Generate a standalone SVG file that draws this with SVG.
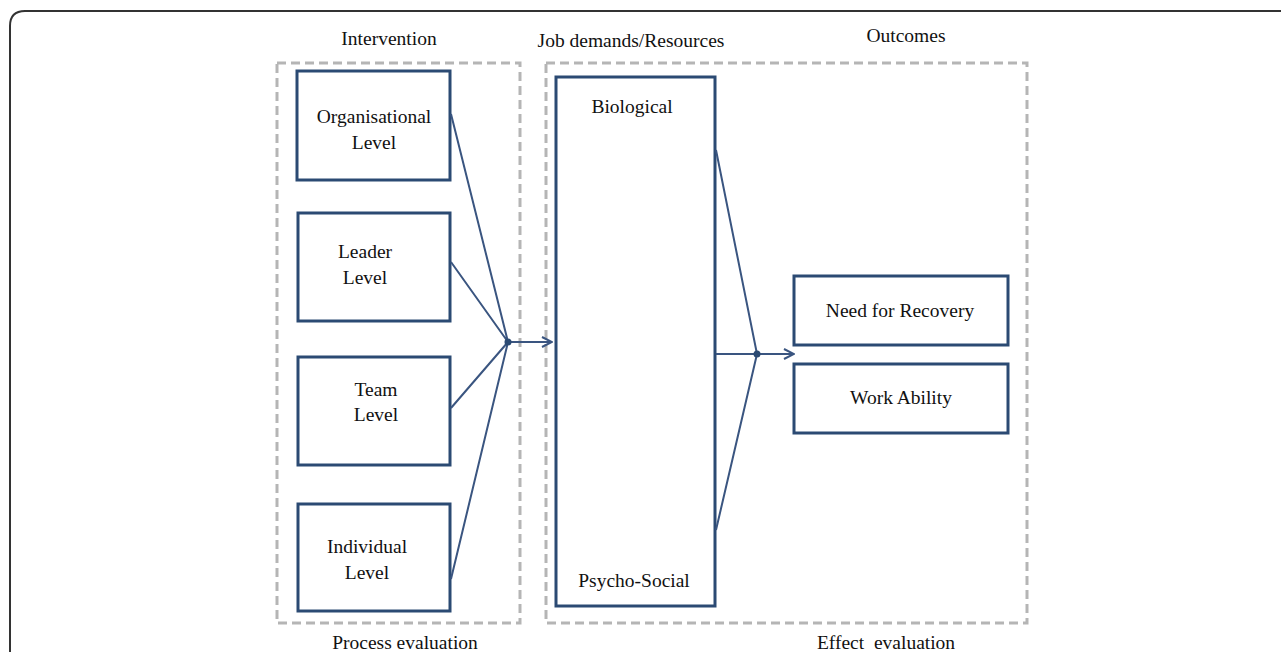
<svg xmlns="http://www.w3.org/2000/svg" width="1281" height="652" viewBox="0 0 1281 652">
<style>
.t{font-family:"Liberation Serif","Times New Roman",serif;font-size:19.5px;fill:#111;text-anchor:middle}
.box{fill:#fff;stroke:#2b4a73;stroke-width:3}
.dash{fill:none;stroke:#b5b5b5;stroke-width:3;stroke-dasharray:9 5}
.c{fill:none;stroke:#3a5580;stroke-width:2}
</style>
<defs>
<marker id="ah" viewBox="0 0 12 12" refX="11" refY="6" markerWidth="12" markerHeight="12" markerUnits="userSpaceOnUse" orient="auto">
<path d="M1,1 L11,6 L1,11" fill="none" stroke="#3a5580" stroke-width="2"/>
</marker>
</defs>
<rect width="1281" height="652" fill="#fff"/>
<path d="M10,700 L10,26 Q10,11 25,11 L1300,11" fill="none" stroke="#333" stroke-width="2"/>
<g id="frames">
<rect class="dash" x="277" y="63" width="243" height="560"/>
<rect class="dash" x="546" y="63" width="481" height="560"/>
</g>
<g id="labels">
<text class="t" x="389" y="45">Intervention</text>
<text class="t" x="631" y="47">Job demands/Resources</text>
<text class="t" x="906" y="42">Outcomes</text>
<text class="t" x="405" y="649">Process evaluation</text>
<text class="t" x="886" y="649" xml:space="preserve">Effect  evaluation</text>
</g>
<g id="org"><rect class="box" x="297" y="71" width="153" height="109"/><text class="t" x="374" y="123">Organisational</text><text class="t" x="374" y="149">Level</text></g>
<g id="leader"><rect class="box" x="298" y="213" width="152" height="108"/><text class="t" x="365" y="258">Leader</text><text class="t" x="365" y="284">Level</text></g>
<g id="team"><rect class="box" x="298" y="357" width="152" height="108"/><text class="t" x="376" y="396">Team</text><text class="t" x="376" y="421">Level</text></g>
<g id="individual"><rect class="box" x="298" y="504" width="152" height="107"/><text class="t" x="367" y="553">Individual</text><text class="t" x="367" y="579">Level</text></g>
<g id="jobdemands"><rect class="box" x="556" y="77" width="159" height="529"/><text class="t" x="632" y="113">Biological</text><text class="t" x="634" y="587">Psycho-Social</text></g>
<g id="recovery"><rect class="box" x="794" y="276" width="214" height="69"/><text class="t" x="900" y="317">Need for Recovery</text></g>
<g id="workability"><rect class="box" x="794" y="364" width="214" height="69"/><text class="t" x="901" y="404">Work Ability</text></g>
<g id="connectors">
<path class="c" d="M451,114 L508,342 M451,262 L508,342 M451,408 L508,342 M451,579 L508,342"/>
<path class="c" d="M508,342 L552,342" marker-end="url(#ah)"/>
<circle cx="508" cy="342" r="3.5" fill="#2b4a73"/>
<path class="c" d="M716,150 L757,354 M716,530 L757,354"/>
<path class="c" d="M716,354 L794,354" marker-end="url(#ah)"/>
<circle cx="757" cy="354" r="3.5" fill="#2b4a73"/>
</g>
</svg>
